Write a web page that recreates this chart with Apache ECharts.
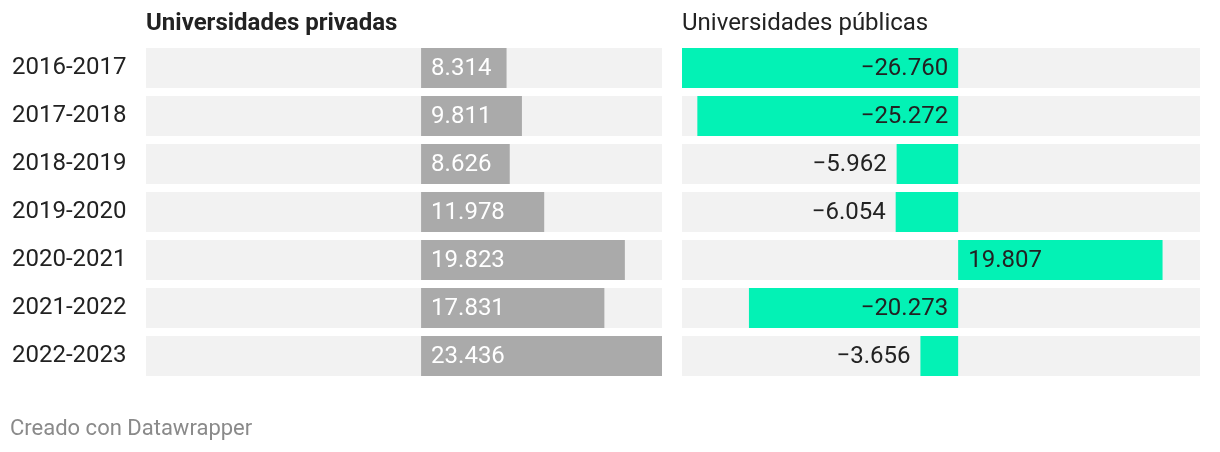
<!DOCTYPE html>
<html>
<head>
<meta charset="utf-8">
<script src="https://cdn.jsdelivr.net/npm/echarts@6/dist/echarts.min.js"></script>
<style>
html,body{margin:0;padding:0;background:#fff;}
#c{width:1220px;height:452px;}
</style>
</head>
<body>
<div id="c"></div>
<script>
const categories = ['2016-2017','2017-2018','2018-2019','2019-2020','2020-2021','2021-2022','2022-2023'];
const privadas = [8314, 9811, 8626, 11978, 19823, 17831, 23436];
const publicas = [-26760, -25272, -5962, -6054, 19807, -20273, -3656];
const titles = ['Universidades privadas', 'Universidades públicas'];
const footer = 'Creado con Datawrapper';

const FONT = 'Roboto, "Noto Sans", sans-serif';
const xMin = Math.min(...publicas, ...privadas, 0);
const xMax = Math.max(...publicas, ...privadas);

function fmt(v){
  const s = Math.abs(v).toString().replace(/\B(?=(\d{3})+(?!\d))/g, '.');
  return (v < 0 ? '\u2212' : '') + s;
}

const chart = echarts.init(document.getElementById('c'));

const pubData = publicas.map(v => {
  let pos;
  if (v >= 0) pos = 'insideLeft';
  else if (Math.abs(v) > 10000) pos = 'insideRight';
  else pos = 'left';
  return { value: v, label: { position: pos } };
});

chart.setOption({
  animation: false,
  textStyle: { fontFamily: FONT },
  title: [
    { text: titles[0], left: 146, top: 12, padding: 0, textStyle: { fontFamily: FONT, fontSize: 24, fontWeight: 'bold', color: '#222' } },
    { text: titles[1], left: 682, top: 12, padding: 0, textStyle: { fontFamily: FONT, fontSize: 24, fontWeight: 'normal', color: '#222' } },
    { text: footer, left: 10, top: 418, padding: 0, textStyle: { fontFamily: FONT, fontSize: 22, fontWeight: 'normal', color: '#8a8a8a' } }
  ],
  grid: [
    { left: 146, width: 516, top: 44, height: 336 },
    { left: 682, width: 518, top: 44, height: 336 }
  ],
  xAxis: [
    { gridIndex: 0, type: 'value', min: xMin, max: xMax, show: false },
    { gridIndex: 1, type: 'value', min: xMin, max: xMax, show: false }
  ],
  yAxis: [
    { gridIndex: 0, type: 'category', data: categories, inverse: true,
      axisLine: { show: false }, axisTick: { show: false },
      axisLabel: { align: 'left', margin: 134, fontSize: 24, color: '#222', fontFamily: FONT, padding: [3, 0, 0, 0] } },
    { gridIndex: 1, type: 'category', data: categories, inverse: true, show: false }
  ],
  series: [
    { type: 'bar', xAxisIndex: 0, yAxisIndex: 0, data: privadas, barWidth: 40,
      itemStyle: { color: '#aaaaaa' },
      showBackground: true, backgroundStyle: { color: '#f2f2f2' },
      label: { show: true, position: 'insideLeft', distance: 10, offset: [0, 1], color: '#ffffff', fontSize: 24, fontFamily: FONT,
        formatter: p => fmt(p.value) } },
    { type: 'bar', xAxisIndex: 1, yAxisIndex: 1, data: pubData, barWidth: 40,
      itemStyle: { color: '#03f2b5' },
      showBackground: true, backgroundStyle: { color: '#f2f2f2' },
      label: { show: true, distance: 10, offset: [0, 1], color: '#222222', fontSize: 24, fontFamily: FONT,
        formatter: p => fmt(p.value) } }
  ]
});
</script>
</body>
</html>
